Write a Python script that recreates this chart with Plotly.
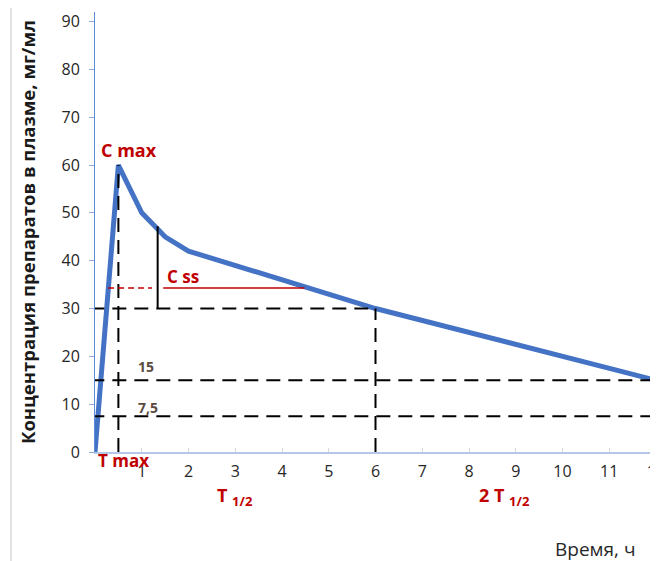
import plotly.graph_objects as go

# concentration curve (hours, mg/ml)
time_h = [0, 0.5, 1, 1.5, 2, 6, 12]
conc = [0, 60, 50, 45, 42, 30, 15]

c_max_t, c_max = 0.5, 60
c_ss = 34.3
half_t, half_c = 6, 30
two_half_t, two_half_c = 12, 15
quarter_c = 7.5

x_ticks = list(range(1, 13))
y_ticks = list(range(0, 100, 10))

RED = "#C00000"
DASH = "14px,8px"
FONT = "'Open Sans', sans-serif"

fig = go.Figure()

fig.add_trace(go.Scatter(
    x=time_h, y=conc, mode="lines",
    line=dict(color="#4472C4", width=5),
    hoverinfo="skip", showlegend=False,
))


def dline(x0, y0, x1, y1, color="black", dash=DASH, width=2):
    fig.add_shape(type="line", xref="x", yref="y", x0=x0, y0=y0, x1=x1, y1=y1,
                  line=dict(color=color, width=width, dash=dash), layer="above")


# guide lines
dline(c_max_t, 0, c_max_t, c_max)
dline(-0.1, half_c, half_t, half_c)
dline(half_t, 0, half_t, half_c)
dline(-0.1, two_half_c, two_half_t, two_half_c)
dline(-0.1, quarter_c, two_half_t, quarter_c)
dline(two_half_t, 0, two_half_t, two_half_c)
dline(1.34, half_c, 1.34, 47.2, dash="solid")
dline(0.28, c_ss, 1.22, c_ss, color=RED, dash="6px,4px", width=1.5)
dline(1.46, c_ss, 4.48, c_ss, color=RED, dash="solid", width=1.5)

# faint frame line on the left
fig.add_shape(type="line", xref="paper", yref="paper", x0=-0.1497, x1=-0.1497,
              y0=-0.26, y1=1.01, line=dict(color="#C8C8C8", width=1))


def note(x, y, text, color=RED, size=18, bold=True, xanchor="center", yref="y"):
    fig.add_annotation(x=x, y=y, xref="x", yref=yref, text=f"<b>{text}</b>" if bold else text,
                       showarrow=False, xanchor=xanchor, yanchor="middle",
                       font=dict(family=FONT, size=size, color=color))


note(0.73, 63.2, "C max")
note(0.6, -0.02, "T max", size=17, yref="paper")
note(1.5, 36.6, "C ss", size=17, xanchor="left")
note(0.88, 17.8, "15", color="#5B4B3F", size=14, xanchor="left")
note(0.88, 9.4, "7,5", color="#5B4B3F", size=14, xanchor="left")
note(2.99, -0.102, "T <sub><span style='font-size:13px'>1/2</span></sub>", yref="paper")
note(8.75, -0.102, "2 T <sub><span style='font-size:13px'>1/2</span></sub>", yref="paper")
note(10.7, -0.22, "Время, ч", color="#262626", size=19, bold=False, yref="paper")

fig.update_layout(
    width=658, height=561,
    margin=dict(l=87, r=10, t=4, b=117),
    paper_bgcolor="white", plot_bgcolor="white",
    font=dict(family=FONT, size=16, color="#404040"),
    xaxis=dict(
        range=[0, 12], tickvals=x_ticks, ticktext=[str(v) for v in x_ticks],
        showgrid=False, zeroline=False, automargin=False,
        showline=True, linecolor="#B4C7E7", linewidth=1.5,
        ticks="inside", ticklen=4, tickcolor="#D9D9D9",
        ticklabeloverflow="allow", ticklabelstandoff=4,
        tickfont=dict(size=16, color="#262626"),
    ),
    yaxis=dict(
        range=[0, 92], tickvals=y_ticks,
        showgrid=False, zeroline=False, automargin=False,
        showline=True, linecolor="#5B8BD6", linewidth=1,
        ticks="outside", ticklen=5, tickcolor="#8FAADC",
        ticklabelstandoff=6,
        tickfont=dict(size=16, color="#262626"),
        title=dict(text="<b>Концентрация препаратов в плазме, мг/мл</b>",
                   font=dict(size=18.5, color="#1a1a1a"), standoff=21),
    ),
)

fig.write_html("out.html")
